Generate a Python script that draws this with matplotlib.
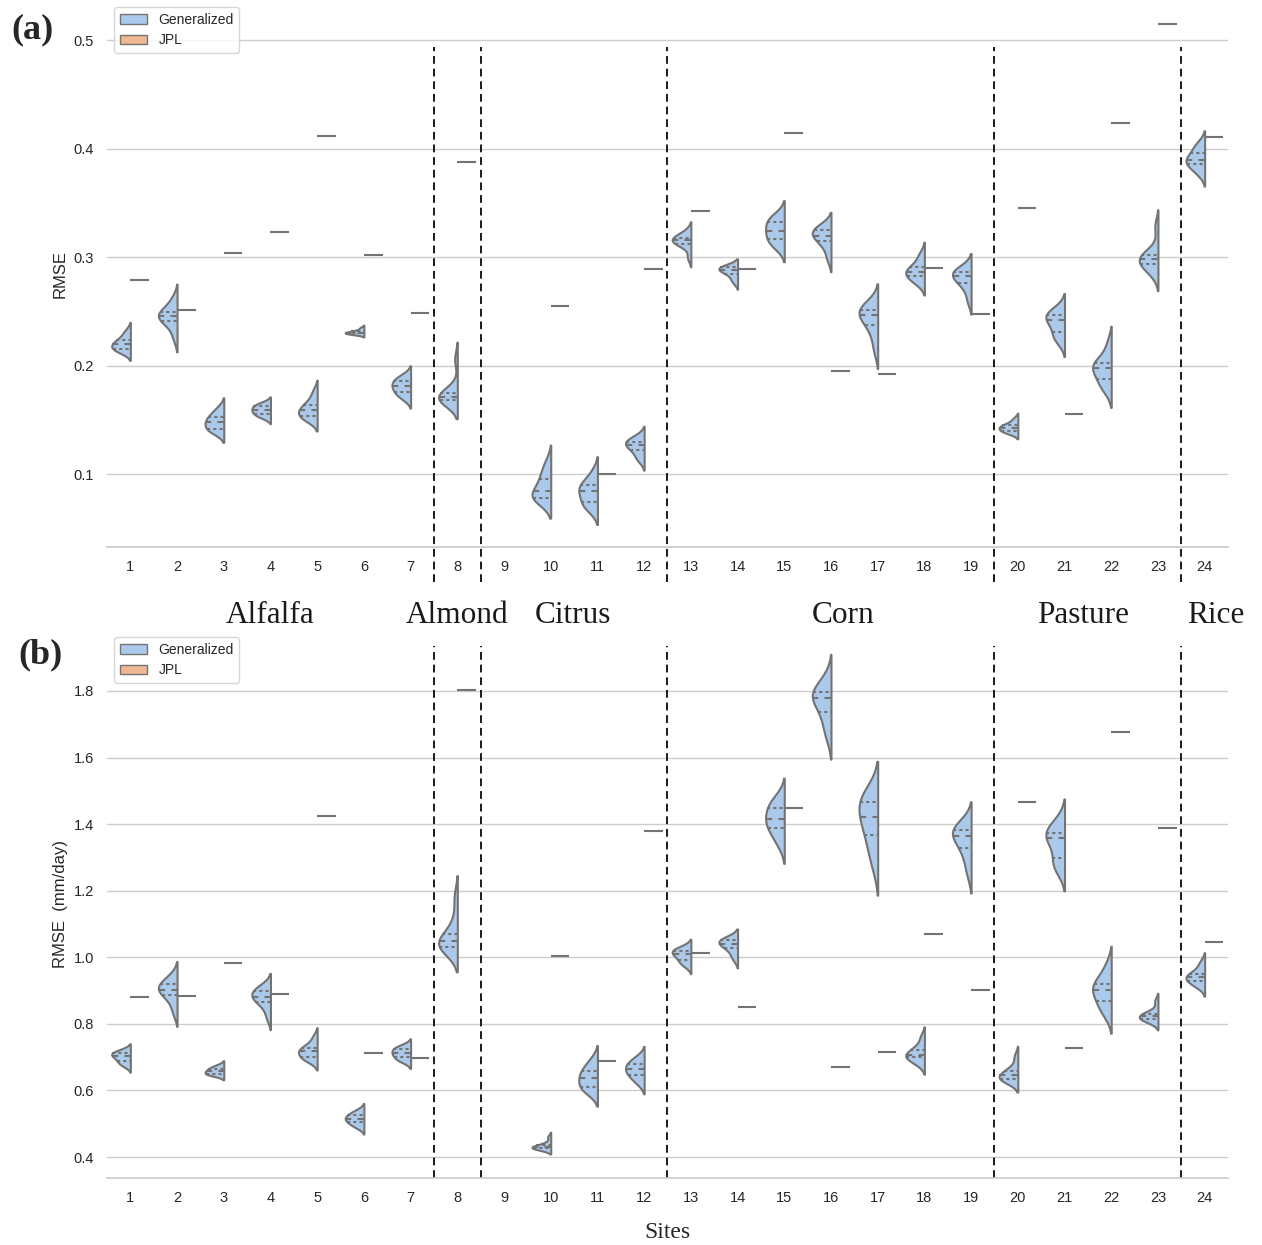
import matplotlib
matplotlib.use('agg')
import matplotlib.pyplot as plt
from matplotlib.patches import Patch
from matplotlib.transforms import blended_transform_factory
import numpy as np
import pandas as pd
import seaborn as sns

SITES = list(range(1, 25))
CROPS = ["Alfalfa", "Almond", "Citrus", "Corn", "Pasture", "Rice"]
CROP_SIZES = [7, 1, 4, 7, 4, 1]

# generalized model RMSE per site, panel (a)
gen_a = {
    1: [0.213, 0.2145, 0.2155, 0.218, 0.2198, 0.221, 0.2235, 0.227, 0.232],
    2: [0.226, 0.237, 0.2413, 0.244, 0.2459, 0.248, 0.2496, 0.254, 0.262],
    3: [0.139, 0.1405, 0.142, 0.146, 0.148, 0.150, 0.153, 0.156, 0.161],
    4: [0.1525, 0.154, 0.156, 0.158, 0.159, 0.1605, 0.1627, 0.164, 0.1655],
    5: [0.1505, 0.152, 0.1535, 0.1565, 0.159, 0.161, 0.1636, 0.168, 0.176],
    6: [0.229, 0.2295, 0.2298, 0.2302, 0.2305, 0.231, 0.2318, 0.2328, 0.235],
    7: [0.170, 0.173, 0.176, 0.179, 0.181, 0.183, 0.186, 0.188, 0.191],
    8: [0.167, 0.1672, 0.168, 0.170, 0.171, 0.173, 0.175, 0.179, 0.206],
    10: [0.0755, 0.077, 0.0785, 0.081, 0.0846, 0.090, 0.096, 0.102, 0.111],
    11: [0.068, 0.071, 0.0745, 0.080, 0.0846, 0.087, 0.0899, 0.093, 0.102],
    12: [0.113, 0.117, 0.122, 0.125, 0.127, 0.1285, 0.130, 0.1325, 0.135],
    13: [0.300, 0.3105, 0.3126, 0.314, 0.3157, 0.317, 0.318, 0.320, 0.324],
    14: [0.277, 0.281, 0.285, 0.287, 0.288, 0.289, 0.291, 0.2915, 0.292],
    15: [0.309, 0.313, 0.317, 0.321, 0.3242, 0.328, 0.3325, 0.335, 0.339],
    16: [0.299, 0.309, 0.3147, 0.318, 0.320, 0.322, 0.3255, 0.327, 0.329],
    17: [0.215, 0.229, 0.2373, 0.243, 0.2465, 0.249, 0.2518, 0.254, 0.258],
    18: [0.276, 0.279, 0.2825, 0.285, 0.2865, 0.288, 0.291, 0.296, 0.303],
    19: [0.260, 0.271, 0.2758, 0.280, 0.2825, 0.284, 0.2865, 0.288, 0.291],
    20: [0.138, 0.139, 0.140, 0.142, 0.143, 0.144, 0.145, 0.147, 0.151],
    21: [0.222, 0.227, 0.231, 0.238, 0.242, 0.244, 0.2466, 0.249, 0.253],
    22: [0.178, 0.183, 0.188, 0.195, 0.198, 0.200, 0.2026, 0.206, 0.220],
    23: [0.285, 0.290, 0.294, 0.296, 0.298, 0.300, 0.302, 0.306, 0.328],
    24: [0.377, 0.382, 0.3857, 0.388, 0.3894, 0.392, 0.396, 0.401, 0.405],
}

# generalized model RMSE (mm/day) per site, panel (b)
gen_b = {
    1: [0.675, 0.682, 0.689, 0.698, 0.7034, 0.707, 0.7118, 0.716, 0.720],
    2: [0.835, 0.868, 0.8876, 0.897, 0.903, 0.910, 0.919, 0.928, 0.945],
    3: [0.6455, 0.648, 0.6496, 0.6535, 0.658, 0.6615, 0.665, 0.670, 0.676],
    4: [0.820, 0.852, 0.8668, 0.876, 0.882, 0.889, 0.898, 0.906, 0.914],
    5: [0.690, 0.695, 0.701, 0.711, 0.717, 0.722, 0.7274, 0.737, 0.760],
    6: [0.490, 0.497, 0.505, 0.511, 0.515, 0.519, 0.5256, 0.532, 0.540],
    7: [0.687, 0.693, 0.700, 0.707, 0.712, 0.717, 0.724, 0.729, 0.734],
    8: [1.022, 1.027, 1.032, 1.040, 1.048, 1.056, 1.0687, 1.110, 1.180],
    10: [0.424, 0.425, 0.426, 0.428, 0.430, 0.432, 0.435, 0.442, 0.460],
    11: [0.595, 0.605, 0.610, 0.627, 0.637, 0.648, 0.658, 0.672, 0.693],
    12: [0.622, 0.636, 0.6475, 0.656, 0.663, 0.671, 0.679, 0.688, 0.700],
    13: [0.975, 0.985, 0.993, 1.004, 1.010, 1.014, 1.020, 1.025, 1.030],
    14: [0.995, 1.012, 1.027, 1.035, 1.040, 1.045, 1.051, 1.055, 1.058],
    15: [1.340, 1.370, 1.389, 1.402, 1.415, 1.430, 1.448, 1.462, 1.480],
    16: [1.665, 1.705, 1.738, 1.765, 1.779, 1.788, 1.796, 1.808, 1.840],
    17: [1.280, 1.330, 1.368, 1.400, 1.420, 1.445, 1.467, 1.482, 1.495],
    18: [0.680, 0.690, 0.699, 0.703, 0.706, 0.712, 0.722, 0.733, 0.760],
    19: [1.255, 1.300, 1.327, 1.350, 1.365, 1.372, 1.382, 1.392, 1.405],
    20: [0.626, 0.629, 0.634, 0.640, 0.645, 0.650, 0.658, 0.670, 0.702],
    21: [1.265, 1.278, 1.298, 1.340, 1.358, 1.365, 1.372, 1.390, 1.410],
    22: [0.830, 0.850, 0.869, 0.890, 0.903, 0.912, 0.9206, 0.940, 0.975],
    23: [0.806, 0.811, 0.815, 0.819, 0.8235, 0.826, 0.831, 0.838, 0.868],
    24: [0.912, 0.921, 0.929, 0.936, 0.941, 0.945, 0.950, 0.965, 0.985],
}

# JPL RMSE, one value per site (site 9 has none)
jpl_a = [0.279, 0.251, 0.3037, 0.323, 0.4115, 0.302, 0.249, 0.3875, np.nan,
         0.2555, 0.1006, 0.289, 0.343, 0.289, 0.4143, 0.195, 0.192, 0.2905,
         0.248, 0.345, 0.156, 0.424, 0.5147, 0.411]
jpl_b = [0.880, 0.8824, 0.983, 0.8897, 1.424, 0.7118, 0.696, 1.803, np.nan,
         1.0035, 0.689, 1.379, 1.0116, 0.8515, 1.448, 0.670, 0.714, 1.071,
         0.901, 1.467, 0.7274, 1.678, 1.388, 1.045]

EDGE = "#737373"
W, H = 1262, 1245


def long_frame(gen):
    rows = []
    for site, vals in gen.items():
        for v in vals:
            rows.append((str(site), "Generalized", v))
    return pd.DataFrame(rows, columns=["site", "model", "rmse"])


def draw_panel(ax, gen, jpl, ylabel, yticks, ylim):
    order = [str(s) for s in SITES]
    sns.violinplot(data=long_frame(gen), x="site", y="rmse", hue="model",
                   hue_order=["Generalized", "JPL"], order=order, split=True,
                   dodge=True, inner="quart", density_norm="width",
                   palette="pastel", linecolor=EDGE, linewidth=1.5, ax=ax,
                   legend=False)
    # seaborn draws q1/median/q3 lines in that order for every violin
    for k, ln in enumerate(ax.lines):
        ln.set_dashes([3, 3] if k % 3 == 1 else [1.5, 1.5])
    # JPL has a single value per site: a flat line on the right half
    jpl = np.asarray(jpl, dtype=float)
    xs = np.arange(len(SITES))
    ok = ~np.isnan(jpl)
    ax.hlines(jpl[ok], xs[ok], xs[ok] + 0.4, colors=EDGE, lw=1.5)

    pal = sns.color_palette("pastel")
    handles = [Patch(facecolor=sns.desaturate(pal[0], .75), edgecolor=EDGE, lw=1, label="Generalized"),
               Patch(facecolor=sns.desaturate(pal[1], .75), edgecolor=EDGE, lw=1, label="JPL")]
    ax.legend(handles=handles, loc="upper left", fontsize=10)

    ax.set_xlim(-0.5, len(SITES) - 0.5)
    ax.set_ylim(*ylim)
    ax.set_yticks(yticks)
    ax.set_xlabel("")
    ax.set_ylabel(ylabel, fontsize=12)
    ax.tick_params(labelsize=10.5)
    sns.despine(ax=ax, left=True)


sns.set_theme(style="whitegrid")
plt.rcParams['font.family'] = ['Liberation Sans', 'DejaVu Sans']

fig = plt.figure(figsize=(W / 100, H / 100), dpi=100)
ax_a = fig.add_axes([107 / W, 1 - 547 / H, 1121 / W, 547 / H])
ax_b = fig.add_axes([107 / W, 1 - 1178 / H, 1121 / W, 548 / H])

draw_panel(ax_a, gen_a, jpl_a, "RMSE", [0.1, 0.2, 0.3, 0.4, 0.5], (0.033, 0.537))
draw_panel(ax_b, gen_b, jpl_b, "RMSE  (mm/day)",
           [0.4, 0.6, 0.8, 1.0, 1.2, 1.4, 1.6, 1.8], (0.337, 1.983))

# crop group separators
bounds = np.cumsum(CROP_SIZES)[:-1] - 0.5
for b in bounds:
    ax_a.axvline(b, ymin=-0.064, ymax=0.914, color="k", lw=1.4,
                 ls=(0, (4, 2.5)), clip_on=False)
    ax_b.axvline(b, ymin=0.0, ymax=0.971, color="k", lw=1.4,
                 ls=(0, (4, 2.5)), clip_on=False)

# crop names between the two panels
crop_x = [3.0, 7.0, 9.47, 15.27, 20.39, 23.23]
trans = blended_transform_factory(ax_a.transData, ax_a.transAxes)
for name, x in zip(CROPS, crop_x):
    ax_a.text(x, -0.139, name, transform=trans, ha="center", va="baseline",
              fontsize=22.5, family="Liberation Serif", color="k", clip_on=False)

fig.text(11 / W, 1 - 38 / H, "(a)", fontsize=26, fontweight="bold",
         family="Liberation Serif", ha="left", va="baseline")
fig.text(18 / W, 1 - 663 / H, "(b)", fontsize=26, fontweight="bold",
         family="Liberation Serif", ha="left", va="baseline")
fig.text(667 / W, 1 - 1238 / H, "Sites", fontsize=17,
         family="Liberation Serif", ha="center", va="baseline")

fig.savefig("out.png", dpi=100)
